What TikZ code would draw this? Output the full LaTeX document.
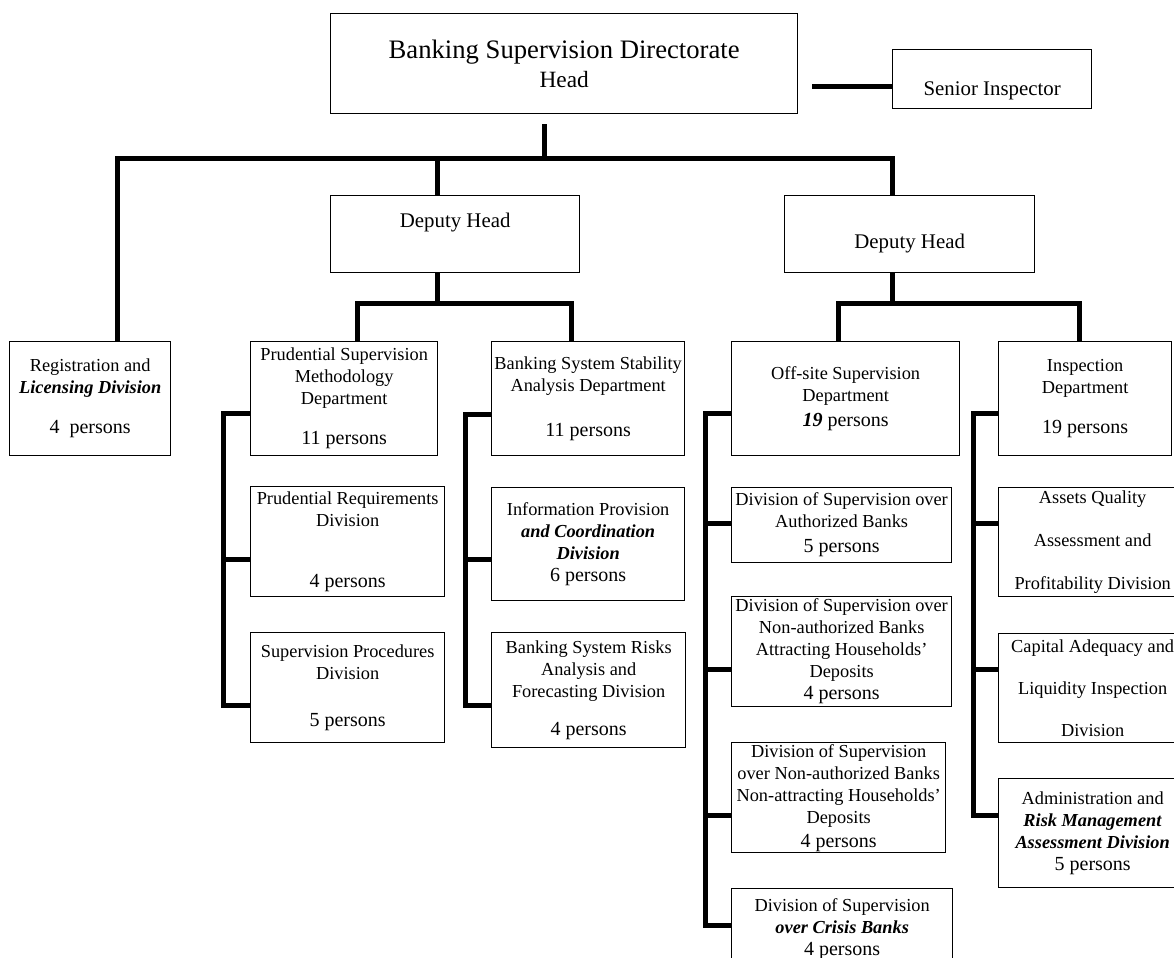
\documentclass[tikz,border=0pt]{standalone}
\usepackage{fontspec}
\setmainfont{Liberation Serif}
\usepackage{tikz}

\newcommand{\pers}[1]{{\fontsize{12}{14}\selectfont #1 persons}}
\newcommand{\bfit}[1]{\textbf{\textit{#1}}}

\tikzset{
  unit/.style={draw,line width=0.8pt,anchor=north west,inner sep=0pt,align=center,
    font=\fontsize{11}{13.2}\selectfont},
  sz/.style 2 args={minimum width=#1*0.6pt,minimum height=#2*0.6pt},
  chief/.style={font=\fontsize{12.5}{15}\selectfont},
  link/.style={line width=3pt}
}

\begin{document}
\begin{tikzpicture}[x=0.6pt,y=-0.6pt]
  \useasboundingbox (0,0) rectangle (1174,958);

  % Head and deputies
  \node[unit,sz={467}{100},font=\fontsize{14}{17.4}\selectfont] (head) at (330,13)
    {{\fontsize{16}{19}\selectfont Banking Supervision Directorate}\\Head};
  \node[unit,chief,sz={199}{59},text height=22.5pt,text depth=2.7pt] (senior) at (892,49) {Senior Inspector};
  \node[unit,chief,sz={249}{77},text height=8.5pt,text depth=16.3pt] (dh1) at (330,195) {Deputy Head};
  \node[unit,chief,sz={250}{77},text height=20.1pt,text depth=2.7pt] (dh2) at (784,195) {Deputy Head};

  % Departments
  \node[unit,sz={161}{114}] (reg) at (9,341) {Registration and\\\bfit{Licensing Division}\\[10.8pt]\pers{4~}};
  \node[unit,sz={187}{114}] (psmd) at (250,341) {Prudential Supervision\\Methodology\\Department\\[10.8pt]\pers{11}};
  \node[unit,sz={193}{114}] (bssad) at (491,341) {Banking System Stability\\Analysis Department\\[13.8pt]\pers{11}};
  \node[unit,sz={228}{114}] (osd) at (731,341) {Off-site Supervision\\Department\\[1.8pt]\pers{\bfit{19}}};
  \node[unit,sz={173}{114}] (id) at (998,341) {Inspection\\Department\\[10.8pt]\pers{19}};

  % Divisions
  \node[unit,sz={194}{110}] (prd) at (250,486) {Prudential Requirements\\Division\\[23.4pt]\pers{4}};
  \node[unit,sz={194}{110}] (spd) at (250,632) {Supervision Procedures\\Division\\[15pt]\pers{5}};
  \node[unit,sz={193}{113}] (ipcd) at (491,487) {Information Provision\\\bfit{and Coordination}\\\bfit{Division}\\\pers{6}};
  \node[unit,sz={194}{115}] (bsrafd) at (491,632) {Banking System Risks\\Analysis and\\Forecasting Division\\[9.6pt]\pers{4}};
  \node[unit,sz={220}{75}] (dsab) at (731,487) {Division of Supervision over\\Authorized Banks\\[1.8pt]\pers{5}};
  \node[unit,sz={220}{110}] (dsnab) at (731,596) {Division of Supervision over\\Non-authorized Banks\\Attracting Households’\\Deposits\\\pers{4}};
  \node[unit,sz={214}{110}] (dsnnb) at (731,742) {Division of Supervision\\over Non-authorized Banks\\Non-attracting Households’\\Deposits\\[1.2pt]\pers{4}};
  \node[unit,sz={221}{80}] (dscb) at (731,888) {Division of Supervision\\\bfit{over Crisis Banks}\\\pers{4}};
  \node[unit,sz={188}{109}] (aqapd) at (998,487) {Assets Quality\\[12.6pt]Assessment and\\[12.6pt]Profitability Division};
  \node[unit,sz={188}{109}] (calid) at (998,633) {Capital Adequacy and\\[12pt]Liquidity Inspection\\[12pt]Division};
  \node[unit,sz={188}{109}] (armad) at (998,778) {Administration and\\\bfit{Risk Management}\\\bfit{Assessment Division}\\\pers{5}};

  % Head links
  \draw[link] ([xshift=-11.7pt,yshift=-6pt]head.south) -- ++(0,35);
  \draw[link] ([xshift=16.5pt]reg.north) -- ++(0,-183) -| ([xshift=-10.2pt]dh2.north);
  \draw[link] ([xshift=-10.5pt]dh1.north) -- ++(0,-37);
  \draw[link] ([yshift=-4.5pt]senior.west) -- ++(-80,0);

  % Deputy links
  \draw[link] ([xshift=-10.5pt]dh1.south) -- ++(0,31);
  \draw[link] ([xshift=8.1pt]psmd.north) -- ++(0,-38) -| ([xshift=-9.9pt]bssad.north);
  \draw[link] ([xshift=-10.2pt]dh2.south) -- ++(0,31);
  \draw[link] ([xshift=-4.2pt]osd.north) -- ++(0,-38) -| ([xshift=-3.3pt]id.north);

  % Division brackets
  \draw[link] ([yshift=-9pt]psmd.west) -- ++(-27,0) |- ([yshift=-10.8pt]spd.west);
  \draw[link] ([yshift=-10.8pt]prd.west) -- ++(-27,0);
  \draw[link] ([yshift=-9.6pt]bssad.west) -- ++(-26,0) |- ([yshift=-9.3pt]bsrafd.west);
  \draw[link] ([yshift=-9.3pt]ipcd.west) -- ++(-26,0);
  \draw[link] ([yshift=-9pt]osd.west) -- ++(-26,0) |- ([yshift=1.8pt]dscb.west);
  \foreach \n/\s in {dsab/0.9pt,dsnab/-10.8pt,dsnnb/-10.8pt}
    \draw[link] ([yshift=\s]\n.west) -- ++(-26,0);
  \draw[link] ([yshift=-9pt]id.west) -- ++(-25,0) |- ([yshift=10.5pt]armad.west);
  \foreach \n in {aqapd,calid}
    \draw[link] ([yshift=11.1pt]\n.west) -- ++(-25,0);
\end{tikzpicture}
\end{document}
